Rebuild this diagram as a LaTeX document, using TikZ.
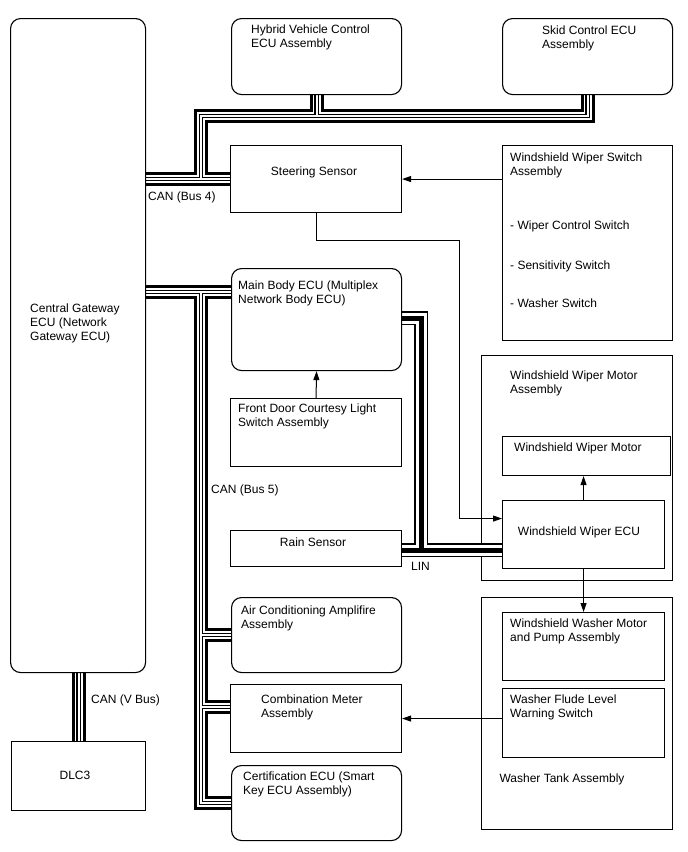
\documentclass[tikz,border=0pt]{standalone}
\usepackage{fontspec}
\setmainfont{Liberation Sans}
\usetikzlibrary{arrows.meta, calc, backgrounds}

\tikzset{
  box/.style={draw, line width=1.1pt, anchor=north west, inner sep=0pt},
  ecu/.style={box, rounded corners=10pt},
  txt/.style={inner sep=0pt, anchor=base west, align=left, font=\fontsize{12}{14}\selectfont},
  sig/.style={line width=1pt, -{Triangle[length=9pt,width=6pt]}},
}

% bus routes (drawn several times, wide to narrow)
\newcommand{\canroute}{%
  (dlc.north) -- (dlc.north |- gw.south)
  (gw.east |- ss.west) -- (ss.west)
  (b4a) -- (b4b) -- (b4b -| skid.south) -- (skid.south)
  (hv.south) -- (hv.south |- b4b)
  (gw.east |- b5) -- (mb.west |- b5)
  (b5) -- (b5 |- cert.west) -- (cert.west)
  (b5 |- ac.west) -- (ac.west)
  (b5 |- b5c) -- (cm.west |- b5c)}
\newcommand{\linroute}{%
  (mb.east |- l1) -- (l1) -- (l2) -- (wecu.west |- l2)
  (rain.east |- l2) -- (l2)}

\begin{document}
\begin{tikzpicture}[x=1pt, y=-1pt]
  \useasboundingbox (0,0) rectangle (688,852);

  % Left column
  \node[ecu, minimum width=135pt, minimum height=654pt] (gw) at (10,18) {};
  \node[box, minimum width=134pt, minimum height=69pt] (dlc) at (11,741) {};
  % Top row
  \node[ecu, minimum width=170pt, minimum height=76pt] (hv) at (231,18) {};
  \node[ecu, minimum width=170pt, minimum height=76pt] (skid) at (502,18) {};
  % Middle column
  \node[box, minimum width=171pt, minimum height=67pt] (ss) at (230,145) {};
  \node[ecu, minimum width=170pt, minimum height=102pt] (mb) at (231,268) {};
  \node[box, minimum width=171pt, minimum height=68pt] (fd) at (230,398) {};
  \node[box, minimum width=171pt, minimum height=36pt] (rain) at (230,530) {};
  \node[ecu, minimum width=170pt, minimum height=75pt] (ac) at (231,597) {};
  \node[box, minimum width=171pt, minimum height=68pt] (cm) at (230,684) {};
  \node[ecu, minimum width=170pt, minimum height=75pt] (cert) at (231,765) {};
  % Right column
  \node[box, minimum width=170pt, minimum height=195pt] (wsw) at (502,145) {};
  \node[box, minimum width=168pt, minimum height=39pt] (wm) at (502,436) {};
  \node[box, minimum width=162pt, minimum height=68pt] (wecu) at (502,500) {};
  \node[box, minimum width=162pt, minimum height=68pt] (wpump) at (502,612) {};
  \node[box, minimum width=162pt, minimum height=69pt] (wlvl) at (502,688) {};

  % Bus junctions
  \coordinate (b4a) at (201,178.5);
  \coordinate (b4b) at (201,116);
  \coordinate (b5) at (201,292);
  \coordinate (b5c) at (0,707);
  \coordinate (l1) at (421,318);
  \coordinate (l2) at (421,550);

  \begin{scope}[on background layer]
    % Assembly frames
    \node[box, minimum width=191pt, minimum height=225pt] (wma) at (481,355) {};
    \node[box, minimum width=191pt, minimum height=232pt] (tank) at (481,597) {};
    % CAN buses
    \foreach \w/\c in {14/black, 8/white, 4.4/black, 2/white}
      \draw[line width=\w pt, draw=\c, line join=miter] \canroute;
    % LIN bus
    \foreach \w/\c in {14/black, 11/white, 5/black}
      \draw[line width=\w pt, draw=\c, line join=miter] \linroute;
  \end{scope}

  % Signals
  \coordinate (sa) at (459,240);
  \draw[sig] (wsw.west |- ss.east) -- (ss.east);
  \draw[sig] (fd.north) -- (mb.south);
  \draw[sig] (ss.south) |- (sa) |- ($(wecu.west)+(0,-16)$);
  \draw[sig] (wecu.north) -- (wecu.north |- wm.south);
  \draw[sig] (wecu.south) -- (wecu.south |- wpump.north);
  \draw[sig] (wlvl.west |- cm.east) -- (cm.east);

  % Labels (base = last line)
  \node[txt] (gw-t) at (30,340) {Central Gateway\\ECU (Network\\Gateway ECU)};
  \node[txt, anchor=base] (dlc-t) at (75,779) {DLC3};
  \node[txt] (hv-t) at (251,47) {Hybrid Vehicle Control\\ECU Assembly};
  \node[txt] (skid-t) at (542,48) {Skid Control ECU\\Assembly};
  \node[txt, anchor=base] (ss-t) at (314,175) {Steering Sensor};
  \node[txt] (mb-t) at (238,303) {Main Body ECU (Multiplex\\Network Body ECU)};
  \node[txt] (fd-t) at (238,426) {Front Door Courtesy Light\\Switch Assembly};
  \node[txt, anchor=base] (rain-t) at (313,546) {Rain Sensor};
  \node[txt] (ac-t) at (241,628) {Air Conditioning Amplifire\\Assembly};
  \node[txt] (cm-t) at (261,717) {Combination Meter\\Assembly};
  \node[txt] (cert-t) at (243,794) {Certification ECU (Smart\\Key ECU Assembly)};
  \node[txt] (wsw-t) at (510,175) {Windshield Wiper Switch\\Assembly};
  \node[txt] (wsw-a) at (510,229) {- Wiper Control Switch};
  \node[txt] (wsw-b) at (510,269) {- Sensitivity Switch};
  \node[txt] (wsw-c) at (510,307) {- Washer Switch};
  \node[txt] (wma-t) at (510,393) {Windshield Wiper Motor\\Assembly};
  \node[txt] (wm-t) at (514,451) {Windshield Wiper Motor};
  \node[txt, anchor=base] (wecu-t) at (579,535) {Windshield Wiper ECU};
  \node[txt] (wpump-t) at (510,641) {Windshield Washer Motor\\and Pump Assembly};
  \node[txt] (wlvl-t) at (510,717) {Washer Flude Level\\Warning Switch};
  \node[txt, anchor=base] (tank-t) at (562,782) {Washer Tank Assembly};
  % Bus names
  \node[txt] (can4) at (148,200) {CAN (Bus 4)};
  \node[txt] (can5) at (211,493) {CAN (Bus 5)};
  \node[txt] (canv) at (91,703) {CAN (V Bus)};
  \node[txt] (lin) at (411,570) {LIN};
\end{tikzpicture}
\end{document}
